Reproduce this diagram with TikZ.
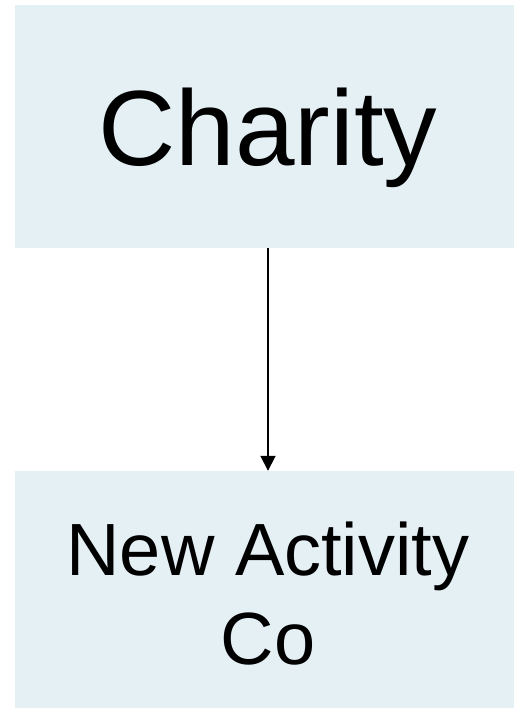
\documentclass[tikz,border=0pt]{standalone}
\usepackage{fontspec}
\setmainfont{Liberation Sans}
\usetikzlibrary{arrows.meta}
\definecolor{boxfill}{HTML}{E5F0F5}
\tikzset{
  orgbox/.style={fill=boxfill, draw=none, inner sep=0pt, minimum width=506pt, align=center, text=black},
  link/.style={line width=1.8pt, -{Triangle[width=15pt,length=15pt]}}
}
\begin{document}
\begin{tikzpicture}[x=1pt,y=1pt]
\useasboundingbox (0,0) rectangle (513,708);
\node[orgbox, minimum height=243pt, text depth=0pt, font=\fontsize{107}{128}\selectfont] (charity) at (268,581.5) {Charity};
\node[orgbox, minimum height=245pt, font=\fontsize{74}{89}\selectfont] (newco) at (268,114.5) {New Activity\\Co};
\draw[link] (charity.south) -- (newco.north);
\end{tikzpicture}
\end{document}
